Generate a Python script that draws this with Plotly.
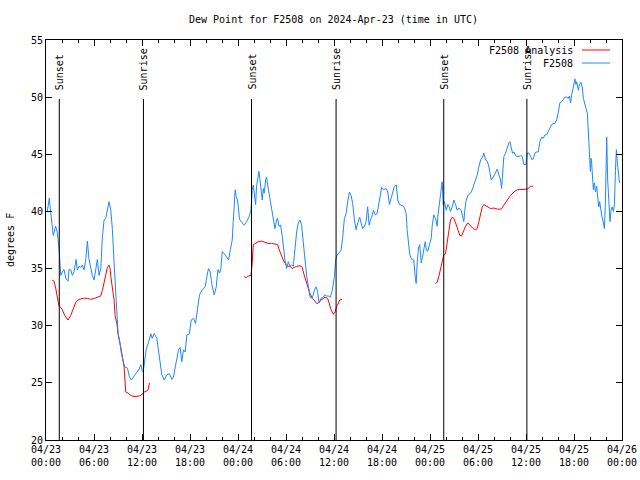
import datetime as dt
import plotly.graph_objects as go

# ---------------- data ----------------
start_time = dt.datetime(2024, 4, 23, 0, 0)

station_hours = [
    0.16, 0.41, 0.59, 0.91, 1.21, 1.41, 1.66, 1.84, 2.04, 2.25, 2.50, 2.75, 2.88, 3.09, 3.29, 3.50,
    3.75, 3.92, 4.13, 4.34, 4.54, 4.76, 4.97, 5.17, 5.38, 5.59, 5.79, 6.01, 6.22, 6.42, 6.63, 6.85,
    7.05, 7.26, 7.47, 7.67, 7.88, 8.10, 8.30, 8.51, 8.72, 8.85, 9.01, 9.26, 9.42, 9.64, 9.85, 10.18,
    10.43, 10.68, 10.93, 11.23, 11.64, 11.85, 12.05, 12.18, 12.52, 12.80, 13.10, 13.27, 13.52, 13.85,
    14.05, 14.27, 14.48, 14.77, 15.11, 15.43, 15.73, 15.93, 16.23, 16.56, 16.77, 16.98, 17.18, 17.40,
    17.61, 17.93, 18.15, 18.44, 18.69, 18.94, 19.19, 19.49, 19.90, 20.11, 20.31, 20.53, 20.74, 21.03,
    21.28, 21.49, 21.69, 21.86, 22.03, 22.40, 22.69, 22.82, 23.03, 23.28, 23.37, 23.53, 23.65, 23.78,
    23.94, 24.07, 24.19, 24.53, 24.78, 25.07, 25.37, 25.62, 25.78, 25.91, 26.03, 26.20, 26.32, 26.45,
    26.62, 26.75, 26.87, 27.03, 27.16, 27.28, 27.45, 27.57, 27.78, 28.00, 28.20, 28.41, 28.62, 28.82,
    28.95, 29.12, 29.32, 29.54, 29.70, 29.87, 30.08, 30.29, 30.50, 30.70, 30.91, 31.13, 31.33, 31.54,
    31.75, 31.95, 32.17, 32.38, 32.58, 32.79, 33.00, 33.30, 33.54, 33.75, 33.95, 34.13, 34.38, 34.67,
    34.88, 35.08, 35.29, 35.54, 35.79, 36.05, 36.21, 36.38, 36.55, 36.88, 37.08, 37.30, 37.51, 37.71,
    37.92, 38.14, 38.33, 38.55, 38.76, 38.89, 39.05, 39.21, 39.39, 39.59, 39.80, 40.01, 40.21, 40.39,
    40.55, 40.71, 40.93, 41.14, 41.39, 41.59, 41.76, 41.96, 42.21, 42.52, 42.72, 42.93, 43.14, 43.34,
    43.55, 43.80, 43.97, 44.18, 44.59, 44.81, 45.02, 45.14, 45.31, 45.47, 45.72, 45.97, 46.15, 46.27,
    46.40, 46.56, 46.72, 46.90, 47.06, 47.22, 47.40, 47.56, 47.72, 47.93, 48.15, 48.27, 48.47, 48.69,
    48.90, 48.97, 49.10, 49.22, 49.40, 49.52, 49.65, 49.81, 50.03, 50.23, 50.41, 50.56, 50.78, 50.98,
    51.19, 51.40, 51.60, 51.90, 52.10, 52.23, 52.35, 52.48, 52.73, 53.07, 53.28, 53.48, 53.69, 53.90,
    54.11, 54.32, 54.53, 54.73, 54.94, 55.16, 55.36, 55.48, 55.66, 55.91, 56.20, 56.41, 56.61, 56.82,
    56.95, 57.07, 57.23, 57.45, 57.66, 57.86, 57.99, 58.16, 58.32, 58.49, 58.70, 58.91, 59.11, 59.32,
    59.53, 59.74, 59.99, 60.16, 60.36, 60.58, 60.70, 60.91, 61.11, 61.33, 61.54, 61.74, 61.95, 62.16,
    62.36, 62.58, 62.79, 62.99, 63.20, 63.41, 63.62, 63.83, 64.04, 64.24, 64.46, 64.67, 64.87, 65.08,
    65.29, 65.42, 65.58, 65.71, 65.92, 66.12, 66.25, 66.33, 66.55, 66.67, 66.87, 67.05, 67.17, 67.37,
    67.50, 67.67, 67.80, 67.92, 68.05, 68.13, 68.21, 68.34, 68.42, 68.55, 68.68, 68.84, 68.96, 69.09,
    69.21, 69.34, 69.50, 69.67, 69.80, 69.92, 70.09, 70.21, 70.34, 70.43, 70.50, 70.63, 70.76, 70.93,
    71.06, 71.18, 71.30, 71.43, 71.55, 71.68,
]
station_dewpoint = [
    40.0, 41.15, 39.9, 37.9, 38.7, 38.2, 36.5, 34.4, 34.7, 34.9, 34.1, 33.9, 34.9, 34.9, 34.4, 34.7,
    35.8, 34.9, 35.2, 35.1, 35.3, 34.9, 35.8, 37.4, 35.8, 35.0, 34.4, 34.0, 35.0, 35.8, 34.4, 35.0,
    37.8, 39.25, 39.4, 40.0, 40.85, 40.1, 38.4, 35.5, 32.8, 31.1, 29.3, 28.5, 27.6, 26.9, 26.4, 26.3,
    25.5, 25.25, 25.5, 25.9, 26.2, 26.6, 26.0, 26.1, 27.9, 28.5, 29.3, 28.9, 29.3, 28.9,
    27.9, 26.7, 25.7, 25.25, 25.7, 25.8, 25.3, 25.5, 26.7, 27.9, 28.1, 26.85, 27.9, 27.7,
    29.2, 29.3, 30.5, 30.65, 30.2, 31.4, 32.7, 33.1, 33.4, 34.3, 35.0, 34.7, 33.6, 32.7,
    33.4, 34.9, 34.6, 35.0, 36.5, 36.2, 35.9, 35.75, 36.6, 37.5, 38.7, 41.0, 41.9, 41.3,
    41.0, 40.2, 39.3, 39.0, 38.8, 39.1, 39.5, 40.1, 41.9, 42.3, 41.4, 40.6, 42.2, 43.0,
    43.5, 42.75, 41.9, 41.0, 42.0, 41.6, 42.75, 43.0, 42.0, 41.15, 40.3, 39.5, 38.5, 39.25,
    39.4, 38.7, 38.8, 37.8, 36.6, 35.75, 35.0, 35.6, 35.2, 35.3, 35.2, 36.8, 38.2, 39.0,
    39.25, 38.8, 37.5, 35.75, 34.4, 33.4, 32.5, 32.4, 33.1, 33.4, 33.0, 32.0, 32.4, 32.5,
    32.7, 32.6, 32.6, 32.5, 33.1, 34.3, 35.75, 36.2, 36.3, 36.6, 37.65, 39.4, 39.8, 40.85,
    41.7, 41.4, 40.7, 39.25, 38.4, 38.8, 39.25, 39.5, 38.96, 38.5, 38.7, 39.1, 40.4, 38.8,
    39.25, 39.5, 40.1, 39.7, 39.8, 40.6, 41.3, 42.1, 41.9, 42.0, 41.7, 40.6, 41.15, 41.6,
    42.2, 42.3, 41.0, 40.6, 40.5, 40.3, 39.8, 38.4, 37.1, 36.2, 35.8, 35.75, 34.3, 33.7,
    35.5, 36.8, 37.1, 35.5, 36.0, 36.6, 37.35, 36.6, 36.5, 37.1, 37.65, 38.7, 39.7, 39.4,
    38.7, 39.5, 40.3, 40.7, 41.9, 42.6, 40.6, 40.85, 40.1, 40.6, 40.4, 40.0, 40.4, 41.0,
    40.6, 40.1, 40.3, 40.1, 39.5, 39.1, 40.1, 40.85, 41.4, 41.6, 41.9, 42.3, 42.75, 43.2,
    43.9, 44.5, 44.7, 45.1, 44.5, 44.4, 43.9, 43.3, 42.75, 43.0, 43.5, 43.7, 43.2, 42.75,
    42.0, 43.0, 44.8, 45.1, 45.7, 46.0, 46.1, 45.5, 45.1, 45.2, 44.9, 44.8, 44.8, 44.9,
    44.8, 44.1, 44.1, 45.1, 45.1, 44.8, 44.55, 44.6, 45.1, 45.2, 45.2, 46.1, 46.5, 46.4,
    46.7, 46.7, 47.1, 47.3, 47.6, 47.7, 47.7, 48.0, 48.7, 49.5, 49.6, 49.8, 50.0, 50.0,
    49.9, 50.1, 49.5, 50.2, 50.8, 51.6, 51.1, 51.35, 50.6, 51.1, 51.3, 50.8, 49.9, 49.2,
    49.0, 48.6, 47.1, 44.8, 43.5, 44.65, 44.2, 42.75, 41.9, 42.5, 41.7, 42.2, 40.85, 40.4,
    40.85, 40.0, 39.5, 39.0, 38.5, 40.7, 46.5, 42.75, 40.4, 39.5, 39.1, 40.1, 40.4, 40.0,
    40.7, 43.6, 45.4, 44.2, 43.6, 42.5,
]

analysis_hours = [
    0.75, 1.00, 1.21, 1.41, 1.63, 1.84, 2.04, 2.34, 2.75, 3.09, 3.42, 3.75, 4.13, 4.67, 5.17, 5.59,
    6.09, 6.42, 6.85, 7.05, 7.26, 7.47, 7.67, 7.88, 8.01, 8.10, 8.30, 8.51, 8.64, 8.85, 9.01, 9.26,
    9.55, 9.76, 9.89, 9.97, 10.26, 10.60, 11.01, 11.64, 12.05, 12.27, 12.60, 12.77, 12.93,
    None,
    24.78, 25.07, 25.28, 25.62, 25.78, 25.91, 26.20, 26.53, 26.95, 27.37, 27.78, 28.20, 28.62, 28.95,
    29.12, 29.37, 29.66, 29.95, 30.20, 30.50, 30.79, 31.04, 31.33, 31.75, 32.04, 32.20, 32.45, 32.70,
    33.00, 33.30, 33.63, 33.92, 34.13, 34.46, 34.88, 35.21, 35.38, 35.63, 35.92, 36.13, 36.33, 36.51,
    36.71, 37.01,
    None,
    48.69, 48.90, 49.10, 49.31, 49.52, 49.72, 49.94, 50.15, 50.35, 50.56, 50.78, 50.98, 51.19, 51.48,
    51.73, 51.94, 52.15, 52.44, 52.73, 53.07, 53.40, 53.69, 53.90, 54.11, 54.32, 54.53, 54.73, 55.16,
    55.57, 55.98, 56.41, 56.91, 57.23, 57.66, 58.07, 58.49, 58.91, 59.32, 59.74, 60.16, 60.58, 60.91,
]
analysis_dewpoint = [
    34.0, 33.9, 33.3, 32.5, 31.7, 31.6, 31.4, 30.9, 30.5, 30.9, 31.5, 32.1, 32.3, 32.4, 32.4, 32.3,
    32.4, 32.5, 32.6, 33.1, 33.85, 34.4, 35.1, 35.3, 35.0, 34.3, 33.3, 32.25, 30.9, 30.2, 29.3, 28.5,
    27.3, 26.4, 25.25, 24.2, 24.1, 23.9, 23.8, 23.85, 24.0, 24.2, 24.3, 24.4, 25.0,
    None,
    34.3, 34.2, 34.35, 34.4, 35.5, 37.1, 37.2, 37.35, 37.4, 37.3, 37.2, 37.2, 37.15, 37.1,
    36.7, 36.2, 35.75, 35.4, 35.2, 35.2, 35.0, 35.1, 35.2, 35.25, 35.1, 34.6, 34.0, 33.3,
    32.8, 32.4, 32.1, 31.9, 32.1, 32.3, 32.5, 32.4, 32.0, 31.4, 31.0, 31.2, 31.7, 31.9,
    32.25, 32.3,
    None,
    33.7, 33.8, 34.3, 34.9, 35.75, 36.2, 36.3, 37.2, 38.2, 39.25, 39.5, 39.4, 39.0, 38.4,
    37.9, 37.85, 38.2, 38.7, 39.0, 38.7, 38.5, 38.4, 38.5, 39.1, 39.8, 40.4, 40.6, 40.4,
    40.25, 40.3, 40.2, 40.2, 40.5, 41.0, 41.4, 41.7, 41.9, 41.9, 41.9, 41.95, 42.2, 42.2,
]

sun_event_hours = [1.66, 12.18, 25.69, 36.26, 49.72, 60.11]
sun_event_labels = ["Sunset", "Sunrise", "Sunset", "Sunrise", "Sunset", "Sunrise"]

y_ticks = [20, 25, 30, 35, 40, 45, 50, 55]

# ---------------- helpers ----------------
def to_time(h):
    return None if h is None else start_time + dt.timedelta(hours=h)

station_x = [to_time(h) for h in station_hours]
analysis_x = [to_time(h) for h in analysis_hours]
sun_x = [to_time(h) for h in sun_event_hours]

FONT = "DejaVu Sans Mono"
RED = "#ff0000"
BLUE = "#1e88ff"

W, H = 640, 480
ML, MR, MT, MB = 46, 18, 40, 40
PW, PH = W - ML - MR, H - MT - MB


def px_x(px):
    return (px - ML) / PW


def px_y(py):
    return 1 - (py - MT) / PH


fig = go.Figure()
fig.add_trace(go.Scatter(x=analysis_x, y=analysis_dewpoint, mode="lines",
                         line=dict(color=RED, width=1), name="F2508 Analysis",
                         connectgaps=False, showlegend=False))
fig.add_trace(go.Scatter(x=station_x, y=station_dewpoint, mode="lines",
                         line=dict(color=BLUE, width=1), name="F2508",
                         showlegend=False))

shapes = []
annotations = []
label_bottom_val = 55 - (92 - MT) / PH * 35
line_top_val = 55 - (99 - MT) / PH * 35
for tx, lab in zip(sun_x, sun_event_labels):
    shapes.append(dict(type="line", xref="x", yref="y", x0=tx, x1=tx, y0=20, y1=line_top_val,
                       line=dict(color="black", width=1)))
    annotations.append(dict(x=tx, y=label_bottom_val, xref="x", yref="y", text=lab,
                            textangle=-90, showarrow=False, xanchor="center", yanchor="bottom",
                            font=dict(family=FONT, size=10, color="black")))

# custom gnuplot-like key (text right, sample line to the right)
for label, col, py in [("F2508 Analysis", RED, 50), ("F2508", BLUE, 63)]:
    annotations.append(dict(x=px_x(575), y=px_y(py), xref="paper", yref="paper", text=label,
                            showarrow=False, xanchor="right", yanchor="middle",
                            font=dict(family=FONT, size=10, color="black")))
    shapes.append(dict(type="line", xref="paper", yref="paper", x0=px_x(582), x1=px_x(610),
                       y0=px_y(py), y1=px_y(py), line=dict(color=col, width=1)))

annotations.append(dict(x=px_x(10), y=0.5, xref="paper", yref="paper", text="degrees F",
                        textangle=-90, showarrow=False, xanchor="center", yanchor="middle",
                        font=dict(family=FONT, size=10, color="black")))

fig.update_layout(
    width=W, height=H,
    margin=dict(l=ML, r=MR, t=MT, b=MB, autoexpand=False),
    paper_bgcolor="white", plot_bgcolor="white",
    font=dict(family=FONT, size=10, color="black"),
    title=dict(text="Dew Point for F2508 on 2024-Apr-23 (time in UTC)",
               x=px_x(333.5), xref="paper", xanchor="center",
               y=1 - 19 / H, yref="container", yanchor="middle",
               font=dict(family=FONT, size=10, color="black")),
    showlegend=False,
    shapes=shapes,
    annotations=annotations,
)
fig.update_xaxes(
    type="date", automargin=False,
    range=[start_time, start_time + dt.timedelta(hours=72)],
    dtick=6 * 3600 * 1000, tick0=start_time,
    tickformat="%m/%d<br>%H:%M",
    ticks="inside", ticklen=6, tickcolor="black",
    minor=dict(dtick=2 * 3600 * 1000, ticks="inside", ticklen=3, tickcolor="black"),
    showline=True, linecolor="black", linewidth=1, mirror="allticks",
    showgrid=False, zeroline=False,
    tickfont=dict(family=FONT, size=10, color="black"),
)
fig.update_yaxes(
    automargin=False,
    range=[20, 55], tickvals=y_ticks, ticktext=[str(v) for v in y_ticks],
    ticks="inside", ticklen=6, tickcolor="black",
    showline=True, linecolor="black", linewidth=1, mirror="allticks",
    showgrid=False, zeroline=False,
    tickfont=dict(family=FONT, size=10, color="black"),
)

fig.write_html("out.html", config={"displayModeBar": False},
               post_script="document.body.style.margin='0px';")
